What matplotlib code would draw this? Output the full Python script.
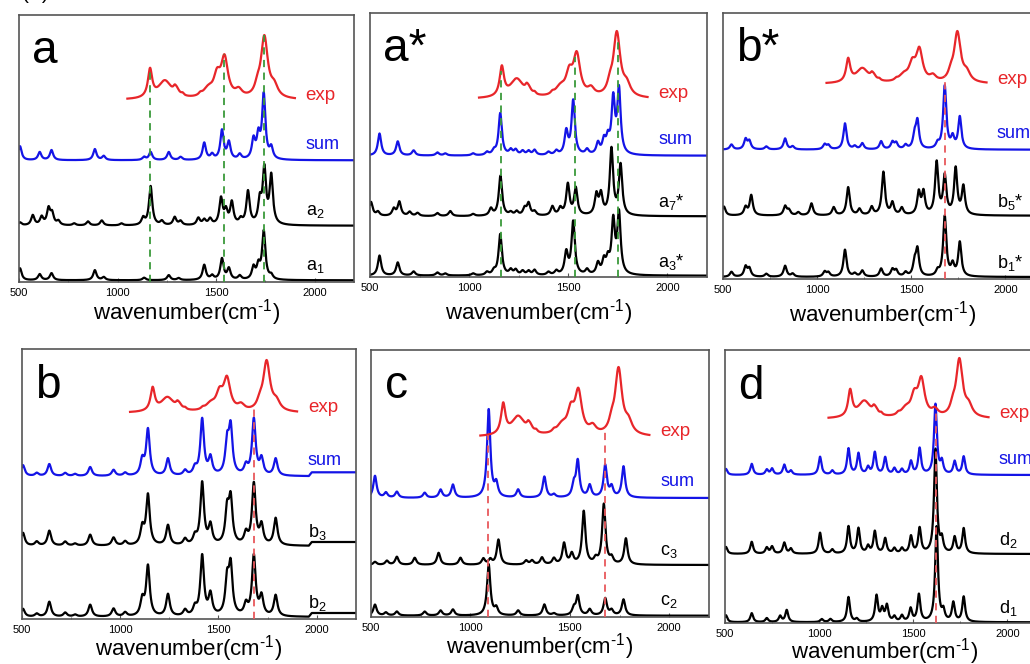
import numpy as np
import matplotlib.pyplot as plt

plt.rcParams['font.family'] = ['Liberation Sans', 'DejaVu Sans']
plt.rcParams['mathtext.fontset'] = 'custom'
plt.rcParams['mathtext.rm'] = 'Liberation Sans'
plt.rcParams['mathtext.it'] = 'Liberation Sans:italic'

# experimental spectrum (same in every panel): band centres, rel. heights, half widths
exp_pos = [1165, 1240, 1290, 1300, 1330, 1420, 1460, 1505, 1543, 1615, 1710, 1745, 1795]
exp_amp = [0.40, 0.26, 0.05, 0.08, 0.03, 0.03, 0.12, 0.28, 0.56, 0.10, 0.12, 0.88, 0.15]
exp_wid = [13, 40, 8, 15, 8, 10, 30, 20, 21, 20, 15, 21, 22]

# panel a
a1_pos = [505, 605, 665, 885, 930, 1135, 1260, 1310, 1440, 1480, 1530, 1565, 1620, 1690, 1715, 1742, 1780]
a1_amp = [12, 6, 7, 10, 3, 2.5, 5, 2, 15, 4, 21, 11, 4, 12, 13, 48, 4]
a2_pos = [505, 570, 615, 650, 668, 700, 780, 850, 920, 1020, 1130, 1168, 1225, 1290, 1320, 1410, 1440,
          1470, 1525, 1550, 1580, 1625, 1662, 1722, 1745, 1780]
a2_amp = [3, 10, 8, 16, 11, 4, 2, 4, 5, 2, 7, 39, 4, 8, 4, 7, 5, 6, 26, 13, 22, 5, 33, 22, 54, 48]
a_sum_pos = [505, 605, 665, 885, 930, 1135, 1168, 1260, 1320, 1440, 1480, 1530, 1565, 1620, 1690, 1715, 1742, 1780]
a_sum_amp = [14, 8, 10, 11, 4, 3, 8, 8, 3, 17, 5, 29, 17, 5, 19, 22, 64, 11]

# panel a*
a3s_pos = [548, 640, 720, 840, 880, 1020, 1090, 1125, 1157, 1210, 1235, 1270, 1300, 1330, 1400, 1440,
           1490, 1525, 1595, 1650, 1680, 1700, 1727, 1756]
a3s_amp = [20, 13, 4, 3, 2, 2, 3, 4, 41, 5, 5, 4, 4, 5, 3, 4, 22, 53, 5, 11, 13, 13, 52, 60]
a7s_pos = [505, 540, 620, 648, 700, 740, 840, 905, 1020, 1110, 1158, 1210, 1240, 1280, 1300, 1330, 1420,
           1460, 1498, 1538, 1642, 1665, 1718, 1764]
a7s_amp = [14, 4, 7, 14, 4, 3, 3, 5, 2, 7, 40, 3, 4, 7, 12, 4, 9, 7, 31, 27, 20, 20, 66, 50]
as_sum_amp = [22, 14, 5, 3, 2, 2, 3, 4, 42, 5, 5, 4, 4, 5, 3, 4, 23, 54, 5, 11, 13, 14, 54, 64]

# panel b*
b1s_pos = [545, 620, 640, 730, 830, 870, 1040, 1060, 1148, 1200, 1240, 1340, 1400, 1420, 1470, 1518, 1533,
           1640, 1678, 1720, 1758]
b1s_amp = [5, 10, 8, 3, 11, 3, 5, 4, 27, 3, 6, 8, 7, 6, 4, 13, 26, 5, 60, 11, 34]
b5s_pos = [505, 620, 650, 830, 850, 900, 970, 1088, 1165, 1225, 1290, 1352, 1400, 1450, 1540, 1565, 1635,
           1678, 1736, 1777]
b5s_amp = [9, 8, 20, 9, 5, 3, 12, 8, 28, 6, 8, 43, 12, 7, 22, 22, 52, 38, 46, 28]
bs_sum_amp = [5, 10, 8, 3, 11, 3, 5, 4, 26, 3, 6, 8, 7, 6, 4, 13, 27, 5, 63, 11, 32]

# panel b
b_pos = [505, 575, 639, 720, 770, 847, 966, 1025, 1112, 1141, 1243, 1330, 1380, 1417, 1459, 1544, 1562,
         1640, 1680, 1719, 1791]
b2_amp = [8, 3, 15, 4, 2, 12, 8, 4, 16, 50, 22, 6, 8, 60, 21, 34, 48, 11, 60, 19, 21]
b3_amp = [13, 4, 15, 4, 2, 11, 8, 4, 17, 50, 20, 6, 8, 62, 19, 33, 44, 11, 61, 19, 27]
b_sum_amp = [11, 3, 12, 3, 2, 9, 6, 3, 15, 46, 17, 5, 7, 56, 17, 31, 46, 9, 56, 16, 17]

# panel c
c2_pos = [520, 575, 630, 770, 850, 912, 1092, 1130, 1240, 1372, 1420, 1520, 1540, 1600, 1678, 1710, 1770]
c2_amp = [11, 3, 4, 4, 5, 6, 51, 7, 5, 11, 2, 7, 19, 6, 17, 5, 16]
c_sum_amp = [22, 5, 6, 5, 8, 13, 88, 13, 8, 21, 3, 12, 36, 12, 32, 10, 31]
c3_pos = [520, 580, 630, 720, 840, 950, 1065, 1100, 1141, 1280, 1310, 1360, 1420, 1471, 1510, 1570, 1630,
          1671, 1710, 1782]
c3_amp = [3, 4, 8, 7, 12, 7, 6, 5, 25, 4, 4, 7, 6, 21, 10, 53, 5, 60, 6, 26]

# panel d
d1_pos = [505, 642, 722, 793, 828, 1014, 1060, 1156, 1200, 1305, 1335, 1360, 1400, 1440, 1486, 1530, 1624,
          1660, 1713, 1768]
d1_amp = [7, 9, 4, 6, 12, 3, 3, 25, 3, 26, 12, 16, 5, 6, 13, 27, 95, 10, 19, 25]
d2_pos = [505, 642, 722, 750, 815, 850, 1005, 1070, 1156, 1209, 1260, 1296, 1351, 1400, 1440, 1488, 1534,
          1618, 1652, 1720, 1768]
d2_amp = [7, 12, 6, 7, 11, 5, 21, 4, 27, 25, 7, 22, 15, 5, 5, 17, 25, 104, 13, 16, 25]
d_sum_amp = [6, 11, 5, 6, 10, 4, 18, 4, 26, 21, 7, 22, 17, 6, 5, 13, 26, 70, 12, 13, 18]

# marked bands
a_marks = [1165, 1540, 1745]
as_marks = [1159, 1532, 1752]
bs_marks = [1677]
b_marks = [1680]
c_marks = [1090, 1675]
d_marks = [1622]


def lorentz(x, pos, amp, hw):
    y = np.zeros_like(x)
    hw = np.broadcast_to(hw, len(pos))
    for p, a, w in zip(pos, amp, hw):
        y += a / (1 + ((x - p) / w) ** 2)
    return y


RED = '#e8262a'
BLUE = '#1414e6'
GREEN = '#3a9a3a'
DRED = '#e8585c'

# rect in pixels: left, top, right, bottom
panels = [
    dict(name='a', rect=(19, 15, 354, 282), hw=10, mcol=GREEN, marks=a_marks, lpad=0,
         traces=[('a$_1$', a1_pos, a1_amp, 1.7), ('a$_2$', a2_pos, a2_amp, 56.3),
                 ('sum', a_sum_pos, a_sum_amp, 121.7)], exp=(182, 65)),
    dict(name='a*', rect=(370, 13, 707, 277), hw=10, mcol=GREEN, marks=as_marks, lpad=3,
         traces=[('a$_3$*', a3s_pos, a3s_amp, 1.3), ('a$_7$*', a7s_pos, a7s_amp, 60.7),
                 ('sum', a3s_pos, as_sum_amp, 121.3)], exp=(178, 68)),
    dict(name='b*', rect=(723, 13, 1043, 279), hw=10, mcol=DRED, marks=bs_marks, lpad=3,
         traces=[('b$_1$*', b1s_pos, b1s_amp, 2), ('b$_5$*', b5s_pos, b5s_amp, 63.3),
                 ('sum', b1s_pos, bs_sum_amp, 129.3)], exp=(195, 53)),
    dict(name='b', rect=(22, 349, 356, 619), hw=11, mcol=DRED, marks=b_marks, end=1960, lpad=-1,
         traces=[('b$_2$', b_pos, b2_amp, 2), ('b$_3$', b_pos, b3_amp, 73),
                 ('sum', b_pos, b_sum_amp, 142.7)], exp=(206, 53)),
    dict(name='c', rect=(371, 350, 709, 617), hw=10, mcol=DRED, marks=c_marks, lpad=-1,
         traces=[('c$_2$', c2_pos, c2_amp, 1.3), ('c$_3$', c3_pos, c3_amp, 52),
                 ('sum', c2_pos, c_sum_amp, 119)], exp=(180, 70)),
    dict(name='d', rect=(725, 350, 1045, 623), hw=9, mcol=DRED, marks=d_marks, lpad=-2,
         traces=[('d$_1$', d1_pos, d1_amp, 0.7), ('d$_2$', d2_pos, d2_amp, 69),
                 ('sum', d2_pos, d_sum_amp, 148)], exp=(204, 61)),
]

W, H = 1030, 664
fig = plt.figure(figsize=(W / 100, H / 100), dpi=100)
fig.text(22 / W, 1.0015, '(A)', fontsize=15, va='baseline')

x_exp = np.linspace(1050, 1900, 900)
y_exp = lorentz(x_exp, exp_pos, exp_amp, exp_wid)
y_exp = y_exp / y_exp.max()

for p in panels:
    l, t, r, b = p['rect']
    ax = fig.add_axes([l / W, 1 - b / H, (r - l) / W, (b - t) / H])
    end = p.get('end', 2200)
    x = np.linspace(500, end, 3000)
    for lab, pos, amp, off in p['traces']:
        y = lorentz(x, pos, amp, p['hw']) + off
        xx, yy = x, y
        if end < 2200:
            xx = np.r_[x, end + 15, 2200]
            yy = np.r_[y, off + 4, off + 4]
        col = BLUE if lab == 'sum' else 'black'
        ax.plot(xx, yy, color=col, lw=1.6)
        dy = 16 if lab == 'sum' else 14
        ax.text(1955, off + dy, lab, color=col, fontsize=13, va='center')
    eoff, eamp = p['exp']
    ye = y_exp * eamp + eoff
    ax.plot(x_exp, ye, color=RED, lw=1.6)
    ax.text(1955, eoff + 5, 'exp', color=RED, fontsize=13.5, va='center')
    for m in p['marks']:
        ax.plot([m, m], [0, np.interp(m, x_exp, ye)], color=p['mcol'], lw=1.3,
                ls=(0, (4, 3)), zorder=3)

    ax.set_xlim(500, 2200)
    ax.set_ylim(0, b - t)
    ax.set_yticks([])
    ax.set_xticks([500, 1000, 1500, 2000])
    ax.set_xticks(np.arange(750, 2200, 500), minor=True)
    ax.tick_params(axis='x', which='major', direction='in', length=3, labelsize=8,
                   color='#555555', pad=4)
    ax.tick_params(axis='x', which='minor', direction='in', length=1.5, color='#555555')
    for s in ax.spines.values():
        s.set_color('#555555')
        s.set_linewidth(1.2)
    ax.set_xlabel(r'wavenumber(cm$^{\text{-1}}$)', fontsize=16, labelpad=p['lpad'])
    ax.text(0.04, 0.82, p['name'], transform=ax.transAxes, fontsize=33, va='baseline')

fig.savefig('out.png', dpi=100)
